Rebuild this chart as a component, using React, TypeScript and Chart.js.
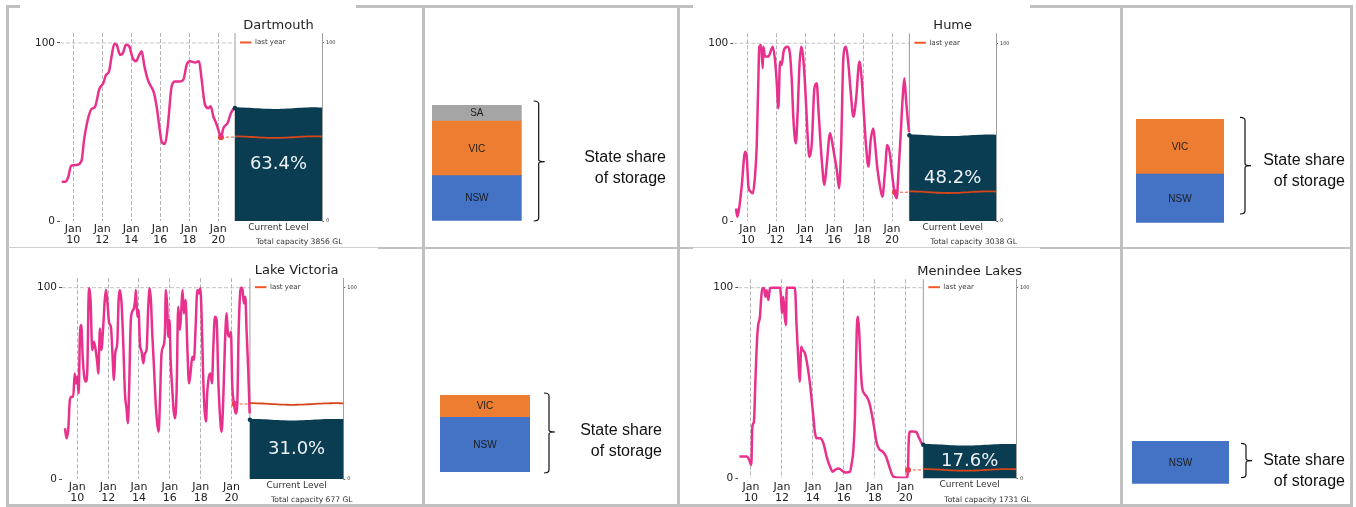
import React, { useEffect, useRef } from 'react';
import { Chart, registerables } from 'chart.js';

Chart.register(...registerables);

const FONT = "'DejaVu Sans', sans-serif";
const SANS = "'Liberation Sans', Arial, sans-serif";
Chart.defaults.font.family = FONT;

// ---------------- DATA ----------------
const reservoirNames = ['Dartmouth', 'Hume', 'Lake Victoria', 'Menindee Lakes'];
const currentLevels = [63.4, 48.2, 31.0, 17.6];
const lastYearLevels = [47.1, 16.2, 39.2, 4.4];
const lastYearDates = [2020.18, 2020.2, 2020.2, 2020.15];
const totalCapacities = [3856, 3038, 677, 1731];
const tickYears = [2010, 2012, 2014, 2016, 2018, 2020];
const axisTicks = [0, 100];

// x-axis ranges (decimal years) and y maximum for each reservoir chart
const xMins = [2009.08, 2009.0, 2009.01, 2009.18];
const xMaxs = [2027.15, 2027.2, 2027.24, 2027.13];
const panelStarts = [2021.15, 2021.2, 2021.19, 2021.14];
const yMaxs = [105.6, 105.6, 104.9, 104.4];

const dartmouthYears = [2009.2, 2009.43, 2009.66, 2009.84, 2010.23, 2010.57, 2010.74, 2011.03, 2011.26, 2011.49, 2011.79, 2012.07, 2012.25, 2012.46, 2012.64, 2012.83, 2012.99, 2013.22, 2013.4, 2013.63, 2013.86, 2014.09, 2014.32, 2014.55, 2014.71, 2014.9, 2015.1, 2015.29, 2015.56, 2015.75, 2015.93, 2016.09, 2016.32, 2016.51, 2016.78, 2017.01, 2017.36, 2017.59, 2017.82, 2018.05, 2018.39, 2018.67, 2018.85, 2019.08, 2019.31, 2019.47, 2019.66, 2019.89, 2020.07, 2020.18, 2020.34, 2020.64, 2020.87, 2021.03, 2021.17];
const dartmouthLevels = [22.1, 22, 25, 31, 31.5, 34, 45.6, 58, 63, 64, 74, 77.5, 82, 84, 92.5, 99.6, 99, 93.4, 94, 99, 98, 91.5, 89.7, 93.4, 95.3, 87, 80.3, 76.5, 72, 64, 53, 44.6, 43.3, 53, 75.6, 78.4, 78.4, 79.4, 87.8, 89.7, 89, 89.7, 79.4, 65.3, 63.4, 64.4, 58.7, 54, 49.3, 46.5, 52, 55, 60.6, 62.8, 64];

const humeYears = [2009.19, 2009.28, 2009.42, 2009.58, 2009.82, 2009.93, 2010.05, 2010.2, 2010.35, 2010.5, 2010.62, 2010.74, 2010.8, 2010.92, 2011.04, 2011.08, 2011.2, 2011.43, 2011.73, 2011.9, 2012.0, 2012.12, 2012.24, 2012.35, 2012.5, 2012.75, 2012.89, 2013.05, 2013.16, 2013.33, 2013.45, 2013.58, 2013.7, 2013.82, 2013.98, 2014.14, 2014.27, 2014.44, 2014.62, 2014.78, 2014.9, 2015.13, 2015.31, 2015.47, 2015.7, 2015.82, 2015.98, 2016.17, 2016.33, 2016.47, 2016.63, 2016.81, 2016.97, 2017.14, 2017.32, 2017.5, 2017.74, 2017.9, 2018.06, 2018.2, 2018.36, 2018.52, 2018.7, 2018.82, 2018.98, 2019.17, 2019.33, 2019.5, 2019.67, 2019.86, 2020.02, 2020.16, 2020.32, 2020.44, 2020.6, 2020.74, 2020.85, 2020.97, 2021.11, 2021.18];
const humeLevels = [7, 2.4, 8, 19.3, 39, 36, 19.3, 16.5, 15.6, 25, 41.8, 81, 98, 99, 86, 98, 92.5, 92.5, 98, 89.7, 79.4, 63.4, 89.7, 87.8, 96, 98, 96, 79.4, 58, 43.7, 59.7, 86.9, 98, 93.4, 75.6, 49.3, 36, 43.7, 74.7, 77.5, 62.5, 34.3, 20.3, 31.5, 49.3, 45.6, 38, 28.7, 18.4, 41.8, 92.5, 98, 88.7, 71.9, 58.7, 68, 89.7, 79.4, 58.7, 41.8, 30.6, 45.6, 52, 43.7, 29.6, 19.3, 13.7, 26.8, 42.8, 37.1, 25, 16.5, 12.8, 26.8, 49.3, 70, 80.3, 68, 55, 50];

const victoriaYears = [2009.2, 2009.31, 2009.42, 2009.52, 2009.63, 2009.74, 2009.83, 2009.91, 2010.0, 2010.09, 2010.17, 2010.26, 2010.35, 2010.45, 2010.56, 2010.65, 2010.73, 2010.78, 2010.86, 2010.97, 2011.08, 2011.19, 2011.3, 2011.36, 2011.47, 2011.56, 2011.68, 2011.79, 2011.86, 2011.94, 2012.07, 2012.18, 2012.27, 2012.38, 2012.46, 2012.59, 2012.68, 2012.76, 2012.87, 2012.98, 2013.09, 2013.2, 2013.28, 2013.37, 2013.46, 2013.56, 2013.67, 2013.76, 2013.8, 2013.89, 2013.97, 2014.06, 2014.17, 2014.28, 2014.38, 2014.49, 2014.6, 2014.69, 2014.77, 2014.86, 2014.97, 2015.08, 2015.18, 2015.27, 2015.36, 2015.46, 2015.57, 2015.68, 2015.74, 2015.83, 2015.9, 2015.98, 2016.05, 2016.16, 2016.24, 2016.33, 2016.44, 2016.54, 2016.65, 2016.74, 2016.82, 2016.91, 2017.02, 2017.13, 2017.24, 2017.34, 2017.45, 2017.56, 2017.67, 2017.78, 2017.88, 2017.97, 2018.06, 2018.16, 2018.25, 2018.34, 2018.42, 2018.53, 2018.64, 2018.73, 2018.81, 2018.92, 2019.03, 2019.14, 2019.24, 2019.35, 2019.46, 2019.57, 2019.68, 2019.76, 2019.85, 2019.96, 2020.04, 2020.15, 2020.26, 2020.37, 2020.45, 2020.54, 2020.63, 2020.71, 2020.8, 2020.89, 2020.97, 2021.08, 2021.17];
const victoriaLevels = [26.5, 21.3, 26.5, 41.3, 43, 43, 55.2, 50, 53.5, 44.8, 74.4, 80.5, 64, 53.5, 50.9, 57, 93.6, 99.7, 93.6, 67.4, 71.8, 67.4, 60.5, 55.2, 78.7, 67.4, 79.6, 94.4, 98.8, 93.6, 81.4, 79.6, 67.4, 51.7, 65.7, 70.9, 93.6, 98.8, 91.8, 70.9, 44.8, 36.1, 29.1, 50, 81.4, 87.5, 89.2, 94.4, 98.8, 84.8, 88.3, 70.9, 66.5, 60.5, 65.7, 67.4, 90, 99.7, 93.6, 76.1, 58.7, 39.5, 29.1, 24.7, 41.3, 65.7, 69.2, 76.1, 98.8, 90, 74.4, 83.1, 62.2, 46.5, 36.1, 31.7, 46.5, 90, 77.9, 88.3, 98.8, 86.6, 93.6, 69.2, 50, 55.2, 63.9, 62.2, 79.6, 98.8, 97, 99.7, 84.8, 53.5, 36.1, 30, 44.8, 53.5, 55.2, 50, 67.4, 84.8, 83.1, 51.7, 34.3, 24.7, 41.3, 70.9, 86.6, 76.1, 74.4, 77, 50, 39.5, 34.3, 39.5, 74.4, 95.3, 100, 98.8, 91.8, 95.3, 77.9, 57, 34.3];

const menindeeYears = [2009.25, 2009.72, 2009.89, 2010.02, 2010.09, 2010.19, 2010.28, 2010.37, 2010.45, 2010.58, 2010.65, 2010.73, 2010.84, 2010.93, 2011.01, 2011.12, 2011.23, 2011.34, 2011.88, 2011.94, 2012.0, 2012.09, 2012.18, 2012.26, 2012.31, 2012.84, 2012.95, 2013.06, 2013.15, 2013.25, 2013.34, 2013.49, 2013.66, 2013.81, 2013.99, 2014.14, 2014.25, 2014.46, 2014.68, 2014.89, 2015.11, 2015.28, 2015.43, 2015.65, 2015.97, 2016.12, 2016.4, 2016.51, 2016.62, 2016.72, 2016.83, 2016.92, 2017.0, 2017.09, 2017.18, 2017.31, 2017.48, 2017.63, 2017.8, 2017.95, 2018.13, 2018.3, 2018.51, 2018.73, 2018.94, 2019.2, 2019.63, 2020.06, 2020.15, 2020.19, 2020.28, 2020.5, 2020.71, 2020.82, 2020.93, 2021.03, 2021.1];
const menindeeLevels = [11.4, 11.4, 9.6, 7, 27.1, 29.7, 49.8, 69, 79.5, 84.8, 93.5, 99.7, 99.7, 95.3, 98.6, 93.5, 99.7, 100, 100, 95.3, 86.5, 95.3, 84.8, 80.4, 100, 100, 79.5, 62, 50.7, 69, 67.3, 65.6, 58.6, 49.8, 35.8, 23.6, 21, 21, 18.4, 11.4, 6.1, 3.5, 4.4, 5.2, 3.5, 3, 3.5, 7.9, 14.9, 32.3, 76, 84.8, 76, 58.6, 48, 44.6, 42.8, 40.2, 34.1, 27.1, 18.4, 15.2, 14, 11.4, 6.1, 0.9, 0.3, 0.3, 4.4, 18.4, 24.5, 24.5, 24.1, 21.9, 20.1, 18.4, 18];

const seriesYears = [dartmouthYears, humeYears, victoriaYears, menindeeYears];
const seriesLevels = [dartmouthLevels, humeLevels, victoriaLevels, menindeeLevels];

// State share of storage (percent, bottom to top)
const dartmouthStates = ['NSW', 'VIC', 'SA'];
const dartmouthShares = [39, 47, 14];
const humeStates = ['NSW', 'VIC'];
const humeShares = [47, 53];
const victoriaStates = ['NSW', 'VIC'];
const victoriaShares = [71, 29];
const menindeeStates = ['NSW'];
const menindeeShares = [100];
const shareStates = [dartmouthStates, humeStates, victoriaStates, menindeeStates];
const shareValues = [dartmouthShares, humeShares, victoriaShares, menindeeShares];

// ---------------- STYLE / LAYOUT ----------------
const PINK = '#e8318c';
const NAVY = '#0b3d52';
const ORANGE = '#f0582a';
const STATE_COLORS: Record<string, string> = { NSW: '#4472c4', VIC: '#ed7d31', SA: '#a5a5a5' };
const BORDER = '#c0c0c0';

// canvas box (cx, cy, cw, ch) and chart area (L, T, R, B) in page pixels
const LINE_LAYOUT = [
  { cx: 20, cy: 7, cw: 336, ch: 240, L: 60, T: 33, R: 322, B: 221 },
  { cx: 693, cy: 7, cw: 337, ch: 240, L: 733.3, T: 33.3, R: 996, B: 221 },
  { cx: 9, cy: 250, cw: 348, ch: 255, L: 62, T: 278.3, R: 343.3, B: 479 },
  { cx: 690, cy: 250, cw: 350, ch: 255, L: 738.3, T: 279.3, R: 1016, B: 478.3 },
];

const SHARE_LAYOUT = [
  { cell: [426, 8, 250, 238], bar: [432, 105, 89.7, 115.7], brace: { x: 538.7, top: 101, bottom: 221, mid: 161.7 }, text: { right: 666, y1: 157.7, y2: 178.3 } },
  { cell: [1123, 8, 226, 238], bar: [1136, 119, 88, 103.7], brace: { x: 1245, top: 117.3, bottom: 214, mid: 165.7 }, text: { right: 1345, y1: 161, y2: 181.7 } },
  { cell: [426, 251, 250, 252], bar: [440, 395, 90, 77], brace: { x: 549, top: 393, bottom: 473, mid: 432 }, text: { right: 662, y1: 431, y2: 452 } },
  { cell: [1123, 251, 226, 252], bar: [1132, 441, 97, 42.7], brace: { x: 1246, top: 443.3, bottom: 477.7, mid: 460.7 }, text: { right: 1345, y1: 461, y2: 482 } },
];

const BORDER_SEGS: [number, number, number, number, string?][] = [
  [6, 5, 14, 2.7],
  [356, 5, 337, 2.7],
  [1030, 5, 323, 2.7],
  [6, 5, 2.7, 501.7],
  [422, 5, 3, 501.7],
  [677, 5, 3, 501.7],
  [1120, 5, 2.7, 501.7],
  [1350, 5, 2.7, 501.7],
  [378, 246.8, 315, 2.5],
  [1040, 246.8, 312, 2.5],
  [8, 246.5, 370, 1, '#cfcfcf'],
  [693, 246.5, 347, 1, '#cfcfcf'],
  [6, 504, 1347, 2.7],
];

function wave(ctx: CanvasRenderingContext2D, x0: number, x1: number, y: number, amp: number, move: boolean) {
  const n = 30;
  for (let k = 0; k <= n; k++) {
    const t = k / n;
    const x = x0 + (x1 - x0) * t;
    const yy = y - amp * Math.cos(t * Math.PI * 2.2);
    if (k === 0 && move) ctx.moveTo(x, yy);
    else ctx.lineTo(x, yy);
  }
}

function LineChart({ i }: { i: number }) {
  const ref = useRef<HTMLCanvasElement>(null);
  const lay = LINE_LAYOUT[i];
  useEffect(() => {
    const canvas = ref.current!;
    const pStart = panelStarts[i];
    const plugin = {
      id: 'storagePanel',
      beforeDatasetsDraw(chart: any) {
        const { ctx, chartArea: ca, scales } = chart;
        const px = scales.x.getPixelForValue(pStart);
        const y100 = scales.y.getPixelForValue(100);
        ctx.save();
        ctx.strokeStyle = '#b5b5b5';
        ctx.lineWidth = 0.8;
        ctx.setLineDash([4, 2]);
        ctx.beginPath();
        ctx.moveTo(ca.left, y100);
        ctx.lineTo(px, y100);
        ctx.stroke();
        ctx.setLineDash([]);
        ctx.strokeStyle = '#9a9a9a';
        ctx.lineWidth = 1;
        ctx.beginPath();
        ctx.moveTo(px, ca.top);
        ctx.lineTo(px, ca.bottom);
        ctx.stroke();
        ctx.restore();
      },
      afterDatasetsDraw(chart: any) {
        const { ctx, chartArea: ca, scales } = chart;
        const ys = scales.y;
        const px = scales.x.getPixelForValue(pStart);
        const pr = ca.right;
        const yc = ys.getPixelForValue(currentLevels[i]);
        const yl = ys.getPixelForValue(lastYearLevels[i]);
        const y0 = ys.getPixelForValue(0);
        const mid = (px + pr) / 2;
        ctx.save();
        // water panel
        ctx.beginPath();
        wave(ctx, px, pr, yc, 0.8, true);
        ctx.lineTo(pr, y0);
        ctx.lineTo(px, y0);
        ctx.closePath();
        ctx.fillStyle = NAVY;
        ctx.fill();
        // last year line
        ctx.beginPath();
        wave(ctx, px, pr, yl, 0.8, true);
        ctx.strokeStyle = '#d8461b';
        ctx.lineWidth = 1.8;
        ctx.stroke();
        // current marker
        ctx.beginPath();
        ctx.arc(px, yc, 2.3, 0, Math.PI * 2);
        ctx.fillStyle = NAVY;
        ctx.fill();
        // percentage text
        ctx.fillStyle = '#edf2f5';
        ctx.font = `18px ${FONT}`;
        ctx.textAlign = 'center';
        ctx.textBaseline = 'middle';
        ctx.fillText(currentLevels[i].toFixed(1) + '%', mid, (yc + y0) / 2);
        // title
        ctx.fillStyle = '#1e1e1e';
        ctx.font = `13px ${FONT}`;
        ctx.fillText(reservoirNames[i], mid, ca.top - 7.5);
        // legend
        const ly = ys.getPixelForValue(100) - 0.5;
        ctx.strokeStyle = ORANGE;
        ctx.lineWidth = 2;
        ctx.beginPath();
        ctx.moveTo(px + 5, ly);
        ctx.lineTo(px + 16.5, ly);
        ctx.stroke();
        ctx.fillStyle = '#333';
        ctx.font = `7px ${FONT}`;
        ctx.textAlign = 'left';
        ctx.fillText('last year', px + 20, ly);
        // bottom captions
        ctx.textAlign = 'center';
        ctx.font = `9px ${FONT}`;
        ctx.fillText('Current Level', mid, y0 + 6.5);
        ctx.textAlign = 'left';
        ctx.font = `7.6px ${FONT}`;
        ctx.fillText(`Total capacity ${totalCapacities[i]} GL`, px + 21, y0 + 21.5);
        ctx.restore();
      },
    };

    const chart = new Chart(canvas, {
      type: 'line',
      data: {
        datasets: [
          {
            data: seriesYears[i].map((x, k) => ({ x, y: seriesLevels[i][k] })),
            borderColor: PINK,
            borderWidth: 2.5,
            pointRadius: 0,
            cubicInterpolationMode: 'monotone',
            fill: false,
          },
          {
            data: [
              { x: lastYearDates[i], y: lastYearLevels[i] },
              { x: pStart, y: lastYearLevels[i] },
            ],
            borderColor: ORANGE,
            borderWidth: 1,
            borderDash: [3, 2],
            pointRadius: [3, 0],
            pointBackgroundColor: '#f2481e',
            pointBorderWidth: 0,
            fill: false,
          },
        ],
      } as any,
      options: {
        responsive: false,
        animation: false,
        events: [],
        layout: { padding: { top: lay.T - lay.cy, left: 0, right: 0, bottom: 0 } },
        plugins: { legend: { display: false }, tooltip: { enabled: false }, title: { display: false } },
        scales: {
          x: {
            type: 'linear',
            min: xMins[i],
            max: xMaxs[i],
            afterBuildTicks: (s: any) => { s.ticks = tickYears.map((v) => ({ value: v })); },
            afterFit: (s: any) => { s.height = lay.cy + lay.ch - lay.B; },
            ticks: {
              autoSkip: false,
              maxRotation: 0,
              padding: 3,
              color: '#222',
              font: { family: FONT, size: 11, lineHeight: 1 },
              callback: (v: any) => ['Jan', String(v).slice(2)],
            },
            grid: { color: '#a0a0a0', lineWidth: 0.8, drawTicks: false },
            border: { display: false, dash: [4, 2] },
          },
          y: {
            position: 'left',
            min: 0,
            max: yMaxs[i],
            afterBuildTicks: (s: any) => { s.ticks = axisTicks.map((v) => ({ value: v })); },
            afterFit: (s: any) => { s.width = lay.L - lay.cx; },
            ticks: { color: '#222', padding: 2, font: { family: FONT, size: 10.5 } },
            grid: { drawOnChartArea: false, drawTicks: true, tickLength: 3, color: '#555' },
            border: { display: false },
          },
          y2: {
            position: 'right',
            min: 0,
            max: yMaxs[i],
            afterBuildTicks: (s: any) => { s.ticks = axisTicks.map((v) => ({ value: v })); },
            afterFit: (s: any) => { s.width = lay.cx + lay.cw - lay.R; },
            ticks: { color: '#333', padding: 2, font: { family: FONT, size: 5 } },
            grid: { drawOnChartArea: false, drawTicks: true, tickLength: 2, color: '#666' },
            border: { display: true, color: '#a0a0a0', width: 1 },
          },
        },
      } as any,
      plugins: [plugin],
    });
    return () => chart.destroy();
  }, [i]);
  return (
    <canvas
      ref={ref}
      width={lay.cw}
      height={lay.ch}
      style={{ position: 'absolute', left: lay.cx, top: lay.cy, width: lay.cw, height: lay.ch }}
    />
  );
}

function ShareChart({ i }: { i: number }) {
  const ref = useRef<HTMLCanvasElement>(null);
  const lay = SHARE_LAYOUT[i];
  const [cx, cy, cw, ch] = lay.cell;
  useEffect(() => {
    const canvas = ref.current!;
    const [bx, by, bw, bh] = lay.bar;
    const plugin = {
      id: 'shareDecor',
      afterDatasetsDraw(chart: any) {
        const { ctx } = chart;
        ctx.save();
        ctx.font = `10px ${SANS}`;
        ctx.fillStyle = '#1c1c1c';
        ctx.textAlign = 'center';
        ctx.textBaseline = 'middle';
        chart.data.datasets.forEach((ds: any, k: number) => {
          const el = chart.getDatasetMeta(k).data[0];
          const p = el.getProps(['x', 'y', 'base'], true);
          ctx.fillText(ds.label, p.x, (p.y + p.base) / 2 + 0.5);
        });
        // brace
        const b = lay.brace;
        const x = b.x - cx;
        const top = b.top - cy;
        const bottom = b.bottom - cy;
        const mid = b.mid - cy;
        ctx.strokeStyle = '#111';
        ctx.lineWidth = 1.2;
        ctx.beginPath();
        ctx.moveTo(x - 5, top);
        ctx.quadraticCurveTo(x, top, x, top + 3);
        ctx.lineTo(x, mid - 2);
        ctx.quadraticCurveTo(x, mid, x + 6, mid);
        ctx.moveTo(x + 6, mid);
        ctx.quadraticCurveTo(x, mid, x, mid + 2);
        ctx.lineTo(x, bottom - 3);
        ctx.quadraticCurveTo(x, bottom, x - 5, bottom);
        ctx.stroke();
        // caption
        ctx.fillStyle = '#111';
        ctx.font = `16px ${SANS}`;
        ctx.textAlign = 'right';
        ctx.fillText('State share', lay.text.right - cx, lay.text.y1 - cy);
        ctx.fillText('of storage', lay.text.right - cx, lay.text.y2 - cy);
        ctx.restore();
      },
    };
    const chart = new Chart(canvas, {
      type: 'bar',
      data: {
        labels: [reservoirNames[i]],
        datasets: shareStates[i].map((s, k) => ({
          label: s,
          data: [shareValues[i][k]],
          backgroundColor: STATE_COLORS[s],
          borderWidth: 0,
          barPercentage: 1,
          categoryPercentage: 1,
        })),
      },
      options: {
        responsive: false,
        animation: false,
        events: [],
        layout: { padding: { left: bx - cx, top: by - cy, right: cx + cw - bx - bw, bottom: cy + ch - by - bh } },
        plugins: { legend: { display: false }, tooltip: { enabled: false } },
        scales: {
          x: { stacked: true, display: false },
          y: { stacked: true, display: false, min: 0, max: 100 },
        },
      } as any,
      plugins: [plugin],
    });
    return () => chart.destroy();
  }, [i]);
  return (
    <canvas
      ref={ref}
      width={cw}
      height={ch}
      style={{ position: 'absolute', left: cx, top: cy, width: cw, height: ch }}
    />
  );
}

export default function App() {
  return (
    <div style={{ position: 'fixed', left: 0, top: 0, width: 1356, height: 507, background: '#fff', overflow: 'hidden' }}>
      {BORDER_SEGS.map(([x, y, w, h, c], k) => (
        <div key={k} style={{ position: 'absolute', left: x, top: y, width: w, height: h, background: c || BORDER }} />
      ))}
      {[0, 1, 2, 3].map((i) => <LineChart key={'l' + i} i={i} />)}
      {[0, 1, 2, 3].map((i) => <ShareChart key={'s' + i} i={i} />)}
    </div>
  );
}
